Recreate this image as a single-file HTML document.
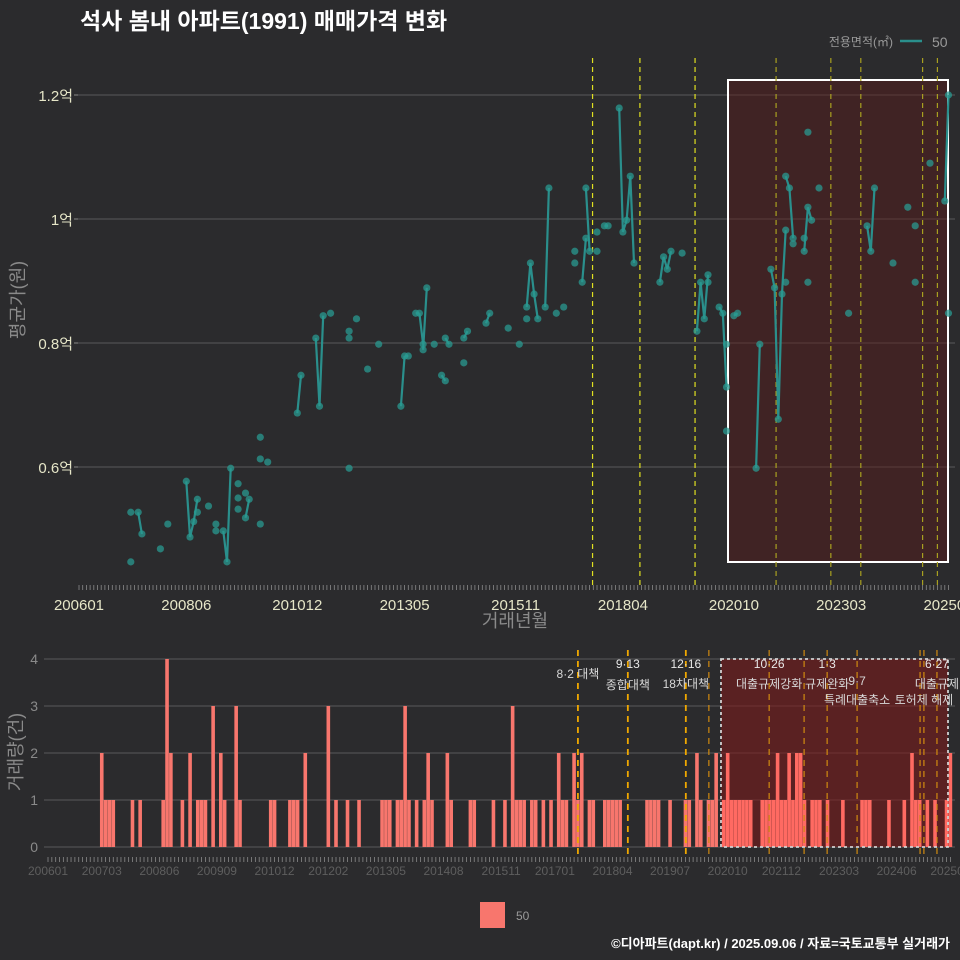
<!DOCTYPE html>
<html><head><meta charset="utf-8">
<style>
html,body{margin:0;padding:0;background:#2b2b2d;}
svg{display:block;font-family:"Liberation Sans","Noto Sans CJK KR",sans-serif;}
</style></head>
<body>
<svg id="c" width="960" height="960" viewBox="0 0 960 960" xmlns="http://www.w3.org/2000/svg">
<rect x="0" y="0" width="960" height="960" fill="#2b2b2d"/>
<text x="80" y="29" fill="#ffffff" font-size="23" font-weight="bold">석사 봄내 아파트(1991) 매매가격 변화</text>
<text x="893" y="46" fill="#9a9a9a" font-size="12" text-anchor="end">전용면적(㎡)</text>
<line x1="900" y1="41" x2="922" y2="41" stroke="#2a8f8c" stroke-width="2.5"/>
<text x="932" y="47" fill="#9a9a9a" font-size="14">50</text>
<g id="top"></g>
<g id="bot"></g>
<rect x="480" y="902" width="25" height="26" fill="#f8766d"/>
<text x="516" y="920" fill="#9a9a9a" font-size="12">50</text>
<text x="950" y="948" fill="#ffffff" font-size="13" font-weight="bold" text-anchor="end">©디아파트(dapt.kr) / 2025.09.06 / 자료=국토교통부 실거래가</text>
</svg>
<script>
// ---- data ----
var priceMonths = [14,14,16,17,22,24,29,30,31,32,32,35,37,37,39,40,41,43,43,43,45,45,46,49,49,49,51,59,60,64,65,66,68,73,73,73,75,78,81,87,88,89,91,92,93,93,94,96,98,99,99,100,104,104,105,110,111,116,119,121,121,122,123,124,126,127,129,131,134,134,136,137,137,138,140,140,142,143,146,147,148,149,150,157,158,159,160,163,167,168,169,170,170,173,174,175,175,175,177,178,183,184,187,188,189,190,191,191,191,192,193,193,196,196,197,198,197,197,200,208,213,214,215,220,224,226,226,230,234,235,235];
var priceValues = [0.447,0.527,0.527,0.492,0.468,0.508,0.577,0.487,0.512,0.548,0.527,0.537,0.508,0.497,0.497,0.447,0.598,0.573,0.550,0.532,0.558,0.518,0.548,0.508,0.648,0.613,0.608,0.687,0.748,0.808,0.698,0.844,0.848,0.598,0.808,0.819,0.839,0.758,0.798,0.698,0.779,0.779,0.848,0.848,0.798,0.789,0.889,0.798,0.748,0.739,0.808,0.798,0.768,0.808,0.819,0.832,0.848,0.824,0.798,0.839,0.858,0.929,0.879,0.839,0.858,1.05,0.848,0.858,0.948,0.929,0.898,0.969,1.05,0.948,0.948,0.979,0.989,0.989,1.179,0.979,0.998,1.069,0.929,0.898,0.939,0.919,0.948,0.945,0.819,0.898,0.839,0.910,0.898,0.858,0.848,0.729,0.798,0.658,0.844,0.848,0.598,0.798,0.919,0.889,0.677,0.879,0.982,0.898,1.069,1.05,0.969,0.960,0.969,0.948,1.019,0.998,0.898,1.14,1.05,0.848,0.989,0.948,1.05,0.929,1.019,0.989,0.898,1.09,1.029,1.2,0.848];
var volMonths = [14,15,16,17,22,24,30,31,32,35,37,39,40,41,43,45,46,49,50,58,59,63,64,65,67,73,75,78,81,87,88,89,91,92,93,94,96,98,99,100,104,105,110,111,116,119,121,122,123,124,126,127,129,131,133,134,135,137,138,139,141,142,145,146,147,148,149,156,157,158,159,162,166,167,169,170,172,173,174,176,177,178,179,180,181,182,183,186,187,188,189,190,191,192,193,194,195,196,197,199,200,201,203,207,212,213,214,219,223,225,226,227,229,231,234,235];
var volCounts = [2,1,1,1,1,1,1,4,2,1,2,1,1,1,3,2,1,3,1,1,1,1,1,1,2,3,1,1,1,1,1,1,1,1,3,1,1,1,2,1,2,1,1,1,1,1,3,1,1,1,1,1,1,1,2,1,1,2,1,2,1,1,1,1,1,1,1,1,1,1,1,1,1,1,2,1,1,1,2,1,2,1,1,1,1,1,1,1,1,1,1,2,1,1,2,1,2,2,1,1,1,1,1,1,1,1,1,1,1,2,1,1,1,1,1,2];
var topPolicyMonths = [138.8,151.6,166.5,188.4,203.2,211.3,228,232];
var botPolicyMonths = [138.0,151.0,166.1,172.1,187.8,196.9,202.9,210.7,227.1,228.1,231.5];
var topTickLabels = ["200601","200806","201012","201305","201511","201804","202010","202303","202508"];
var botTickLabels = ["200601","200703","200806","200909","201012","201202","201305","201408","201511","201701","201804","201907","202010","202112","202303","202406","202508"];
var yTickValues = [0.6,0.8,1.0,1.2];
var yTickLabels = ["0.6억","0.8억","1억","1.2억"];
var volTicks = [0,1,2,3,4];
var policyLabels = [
 {m:138.0,t:"8·2 대책",dy:31,line:1},
 {m:151.0,t:"9·13",dy:21,line:0},{m:151.0,t:"종합대책",dy:42,line:1},
 {m:166.1,t:"12·16",dy:21,line:0},{m:166.1,t:"18차대책",dy:41,line:1},
 {m:187.8,t:"10·26",dy:21,line:0},{m:187.8,t:"대출규제강화",dy:41,line:1},
 {m:202.9,t:"1·3",dy:21,line:0},{m:202.9,t:"규제완화",dy:41,line:1},
 {m:210.7,t:"9·7",dy:38,line:1},{m:210.7,t:"특례대출축소",dy:57,line:1},
 {m:228.1,t:"토허제 해제",dy:57,line:1},
 {m:231.5,t:"6·27",dy:21,line:0},{m:231.5,t:"대출규제",dy:41,line:1}
];
// ---- helpers ----
var NS="http://www.w3.org/2000/svg";
function mk(parent,tag,attrs){var e=document.createElementNS(NS,tag);for(var k in attrs)e.setAttribute(k,attrs[k]);parent.appendChild(e);return e;}
function ym(s){return (parseInt(s.slice(0,4))-2006)*12+parseInt(s.slice(4,6))-1;}
var topG=document.getElementById('top'), botG=document.getElementById('bot');
function xT(m){return 79+3.7*m;}
function yT(v){return 219-(v-1)*620;}
function xB(m){return 48+3.84*m;}
function yB(c){return 847-47*c;}

// ---- top chart ----
var e;
for(var i=0;i<yTickValues.length;i++){
 e=mk(topG,'line',{x1:78,x2:955,y1:yT(yTickValues[i]),y2:yT(yTickValues[i]),stroke:'#5a5a5a','stroke-width':1});
 
 
 e=mk(topG,'line',{x1:74,x2:78,y1:yT(yTickValues[i]),y2:yT(yTickValues[i]),stroke:'#888'});
 
 
 e=mk(topG,'text',{x:73,y:yT(yTickValues[i])+6,fill:'#e6e6c8','font-size':15,'text-anchor':'end'});
 e.textContent=yTickLabels[i];
 
 
}
e=mk(topG,'rect',{x:728,y:80,width:220,height:482,fill:'#5c1a1a','fill-opacity':0.45,stroke:'#ffffff','stroke-width':2});


for(i=0;i<topPolicyMonths.length;i++){
 var inside=topPolicyMonths[i]>172;
 e=mk(topG,'line',{x1:xT(topPolicyMonths[i]),x2:xT(topPolicyMonths[i]),y1:58,y2:588,stroke:inside?'#a8a020':'#e0e020','stroke-width':1.2,'stroke-dasharray':'5,4'});
 
 
}
var d='';
for(i=1;i<priceMonths.length;i++){
 if(priceMonths[i]-priceMonths[i-1]===1){
  d+='M'+xT(priceMonths[i-1]).toFixed(1)+','+yT(priceValues[i-1]).toFixed(1)+'L'+xT(priceMonths[i]).toFixed(1)+','+yT(priceValues[i]).toFixed(1);
 }
}
e=mk(topG,'path',{d:d,stroke:'#2a8f8c','stroke-width':2.2,fill:'none'});


for(i=0;i<priceMonths.length;i++){
 e=mk(topG,'circle',{cx:xT(priceMonths[i]),cy:yT(priceValues[i]),r:3.6,fill:'#2a9a90','fill-opacity':0.75});
 
 
}
for(i=0;i<=235;i++){
 e=mk(topG,'line',{x1:xT(i),x2:xT(i),y1:585,y2:590,stroke:'#8a8a8a','stroke-width':0.8});
 
 
}
for(i=0;i<topTickLabels.length;i++){
 e=mk(topG,'text',{x:xT(ym(topTickLabels[i])),y:610,fill:'#e6e6c8','font-size':15,'text-anchor':'middle'});
 e.textContent=topTickLabels[i];
 
 
}
e=mk(topG,'text',{x:515,y:627,fill:'#8a8a8a','font-size':18,'text-anchor':'middle'});
e.textContent='거래년월';


e=mk(topG,'text',{x:0,y:0,fill:'#8a8a8a','font-size':18,'text-anchor':'middle',transform:'translate(24,300) rotate(-90)'});
e.textContent='평균가(원)';



// ---- bottom chart ----
for(i=0;i<volTicks.length;i++){
 e=mk(botG,'line',{x1:44,x2:955,y1:yB(volTicks[i]),y2:yB(volTicks[i]),stroke:'#5a5a5a','stroke-width':1});
 
 
 e=mk(botG,'text',{x:38,y:yB(volTicks[i])+5,fill:'#8a8a8a','font-size':14,'text-anchor':'end'});
 e.textContent=String(volTicks[i]);
 
 
}
e=mk(botG,'rect',{x:721,y:659,width:227,height:188,fill:'#7a1a1a','fill-opacity':0.6});


for(i=0;i<volMonths.length;i++){
 var bx=xB(volMonths[i]);
 e=mk(botG,'rect',{x:bx-1.8,y:yB(volCounts[i]),width:3.6,height:47*volCounts[i],fill:volMonths[i]>175?'#ff6a62':'#f8766d'});
 
 
}
e=mk(botG,'rect',{x:721,y:659,width:227,height:188,fill:'none',stroke:'#d0d0d0','stroke-width':1.8,'stroke-dasharray':'3,3'});


for(i=0;i<botPolicyMonths.length;i++){
 var ins=botPolicyMonths[i]>172;
 e=mk(botG,'line',{x1:xB(botPolicyMonths[i]),x2:xB(botPolicyMonths[i]),y1:650,y2:858,stroke:ins?'#d08a10':'#f0a800','stroke-width':ins?1.2:1.8,'stroke-dasharray':'6,5'});
 
 
}
for(i=0;i<policyLabels.length;i++){
 var p=policyLabels[i];
 e=mk(botG,'text',{x:xB(p.m),y:647+p.dy,fill:p.line?'#d8d8d8':'#e8e8e8','font-size':12,'text-anchor':'middle'});
 e.textContent=p.t;
 
 
}
for(i=0;i<=235;i++){
 e=mk(botG,'line',{x1:xB(i),x2:xB(i),y1:857,y2:862,stroke:'#8a8a8a','stroke-width':0.8});
 
 
}
for(i=0;i<botTickLabels.length;i++){
 e=mk(botG,'text',{x:xB(ym(botTickLabels[i])),y:875,fill:'#5e5e5e','font-size':12,'text-anchor':'middle'});
 e.textContent=botTickLabels[i];
 
 
}
e=mk(botG,'text',{x:0,y:0,fill:'#8a8a8a','font-size':18,'text-anchor':'middle',transform:'translate(22,752) rotate(-90)'});
e.textContent='거래량(건)';


</script>
</body></html>
